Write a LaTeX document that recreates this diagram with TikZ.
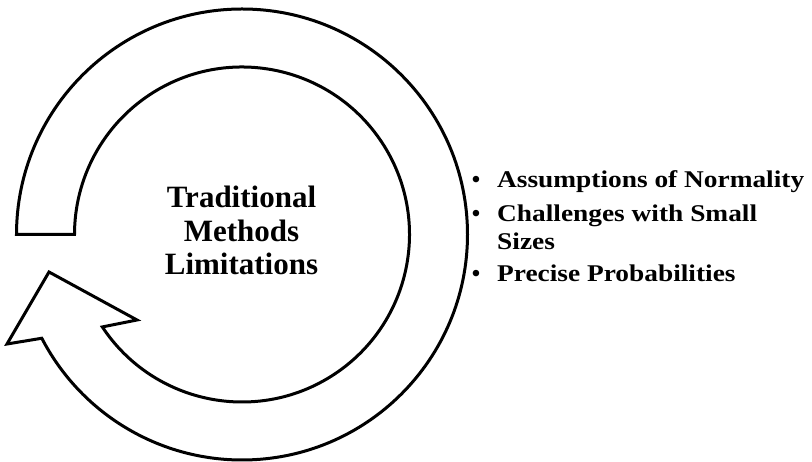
\documentclass[tikz,border=0pt]{standalone}
\usepackage{fontspec}
\setmainfont{Liberation Serif}
\usetikzlibrary{calc}
\begin{document}
\begin{tikzpicture}[x=1pt,y=1pt,
  ring/.style={draw=black, line width=3pt, line join=miter, fill=white},
  title/.style={font=\bfseries\fontsize{31}{33}\selectfont, anchor=base, inner sep=0pt},
  item/.style={font=\bfseries\fontsize{24}{28}\selectfont, anchor=base west, inner sep=0pt},
  dot/.style={font=\bfseries\fontsize{24}{28}\selectfont, anchor=base, inner sep=0pt}]
\useasboundingbox (0,0) rectangle (812,462);
% centre of the circular arrow
\coordinate (C) at (242,227.5);
% arrowhead corners
\coordinate (tipL) at (7,118);
\coordinate (tipU) at (49,190);
\coordinate (tipR) at (137,142);
% circular arrow: outer arc clockwise, arrowhead, inner arc back to the tail
\draw[ring] ($(C)+(180:225.5)$) arc[start angle=180, end angle=-152.6, radius=225.5]
  -- (tipL) -- (tipU) -- (tipR)
  -- ($(C)+(-146.5:167.5)$) arc[start angle=-146.5, end angle=180, radius=167.5]
  -- cycle;
% centre caption
\node[title] (t1) at (241.5,254) {Traditional};
\node[title] (t2) at (241.5,220.5) {Methods};
\node[title] (t3) at (241.5,187.5) {Limitations};
% bullet list
\node[dot] (b1) at (476,274) {•};
\node[item] (i1) at (497,274) {\scalebox{1.14}[1]{Assumptions of Normality}};
\node[dot] (b2) at (476,240.3) {•};
\node[item] (i2) at (497,240.3) {\scalebox{1.14}[1]{Challenges with Small}};
\node[item] (i2b) at (497,212) {\scalebox{1.14}[1]{Sizes}};
\node[dot] (b3) at (476,180) {•};
\node[item] (i3) at (497,180) {\scalebox{1.14}[1]{Precise Probabilities}};
\end{tikzpicture}
\end{document}
